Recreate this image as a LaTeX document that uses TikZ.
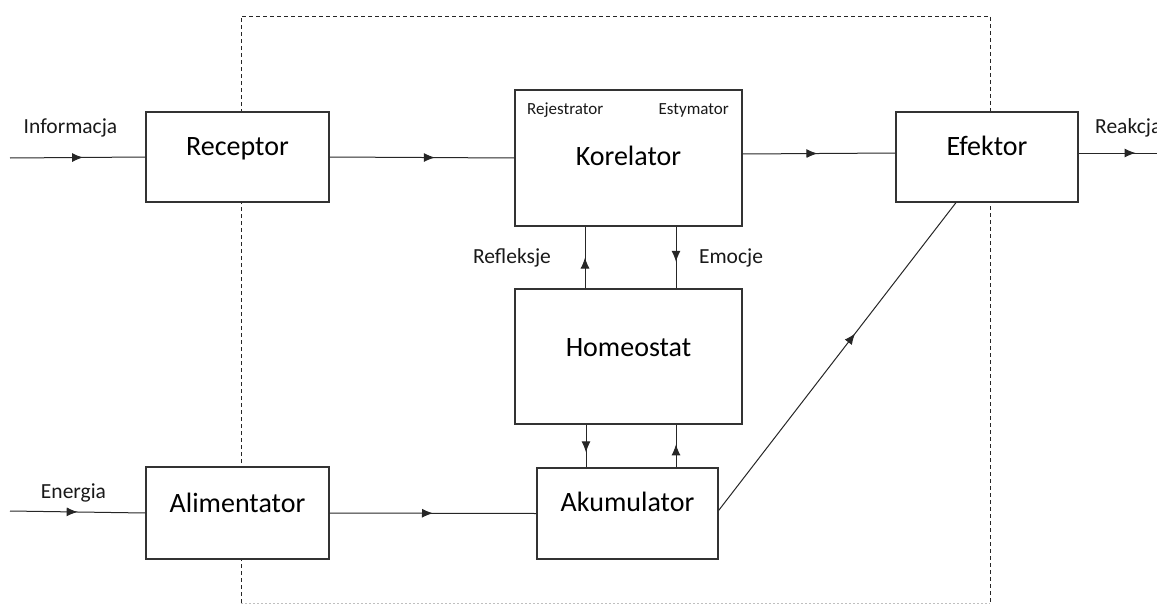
\documentclass[tikz,border=0pt]{standalone}
\usepackage{fontspec}
\setmainfont{Carlito}
\usepackage{tikz}
\usetikzlibrary{positioning}
\usetikzlibrary{arrows.meta}
\usetikzlibrary{decorations.markings}

\tikzset{
  block/.style={draw=black!80,line width=1.2pt,fill=white,inner sep=0pt,
    font=\fontsize{28}{34}\selectfont},
  flow/.style={line width=1pt,draw=black!85,postaction={decorate},
    decoration={markings,mark=at position #1 with {\arrow{Latex[length=11pt,width=9pt]}}}},
  flow/.default=0.5,
  lbl/.style={font=\fontsize{21.5}{26}\selectfont,inner sep=0pt,text=black!90},
  sublbl/.style={font=\fontsize{17}{20}\selectfont,inner sep=0pt,text=black!90}
}

\begin{document}
\begin{tikzpicture}[x=1pt,y=-1pt]
            \useasboundingbox (0,0) rectangle (1157,605);
            % system border
            \draw [black!85,line width=0.9pt,dash pattern=on 4pt off 3pt] (241,603) -- (241,16) -- (990,16) -- (990,603);
            \draw [black!25,line width=0.9pt,dash pattern=on 2pt off 2pt] (241,603) -- (990,603);
            %
            \node (receptor) at (237.5,157) [block,minimum width=183pt,text height=43pt,text depth=47pt] {Receptor};
            \node (korelator) at (628.5,158) [block,minimum width=227pt,text height=75pt,text depth=61pt] {Korelator};
            \node (homeostat) at (628.5,356.5) [block,minimum width=227pt,text height=67pt,text depth=68pt] {Homeostat};
            \node (alimentator) at (237.5,513) [block,minimum width=183pt,text height=45pt,text depth=47pt] {Alimentator};
            \node (akumulator) at (627.5,513.5) [block,minimum width=181pt,text height=43pt,text depth=48pt] {Akumulator};
            \node (efektor) at (987,157) [block,minimum width=182pt,text height=43pt,text depth=47pt] {Efektor};
            %
            \node (rejestrator) at (527,114) [sublbl,anchor=base west] {Rejestrator};
            \node (estymator) at (729,114) [sublbl,anchor=base east] {Estymator};
            %
            \coordinate (in1) at (10,158);
            \coordinate (in2) at (10,511);
            \coordinate (out) at (1160,153);
            \node (informacja) at (70.5,133) [lbl,anchor=base] {Informacja};
            \node (energia) at (73.5,498) [lbl,anchor=base] {Energia};
            \node (reakcja) at (1095,133) [lbl,anchor=base west] {Reakcja};
            %
            \draw [flow=0.54] (in1) -- (receptor.west);
            \draw [flow=0.57] (receptor.east) -- (korelator.west);
            \draw [flow=0.49] ([yshift=4pt]korelator.east) -- ([yshift=4pt]efektor.west);
            \draw [flow=0.70] ([yshift=4pt]efektor.east) -- (out);
            \draw [flow=0.5] (in2) -- (alimentator.west);
            \draw [flow=0.5] (alimentator.east) -- (akumulator.west);
            % korelator <-> homeostat
            \draw [flow=0.5] ([xshift=-43.5pt]homeostat.north) -- ([xshift=-43.5pt]korelator.south);
            \draw [flow=0.57] ([xshift=47.5pt]korelator.south) -- ([xshift=47.5pt]homeostat.north);
            \node (refleksje) at (512,263) [lbl,anchor=base] {Refleksje};
            \node (emocje) at (731,263) [lbl,anchor=base] {Emocje};
            % homeostat <-> akumulator
            \draw [flow=0.65] ([xshift=-42.5pt]homeostat.south) -- ([xshift=-42.5pt]homeostat.south |- akumulator.north);
            \draw [flow=0.54] ([xshift=47.5pt]homeostat.south |- akumulator.north) -- ([xshift=47.5pt]homeostat.south);
            %
            \draw [flow=0.575] ([yshift=3pt]akumulator.east) -- ([xshift=-31pt]efektor.south);
            %
        \end{tikzpicture}
\end{document}
